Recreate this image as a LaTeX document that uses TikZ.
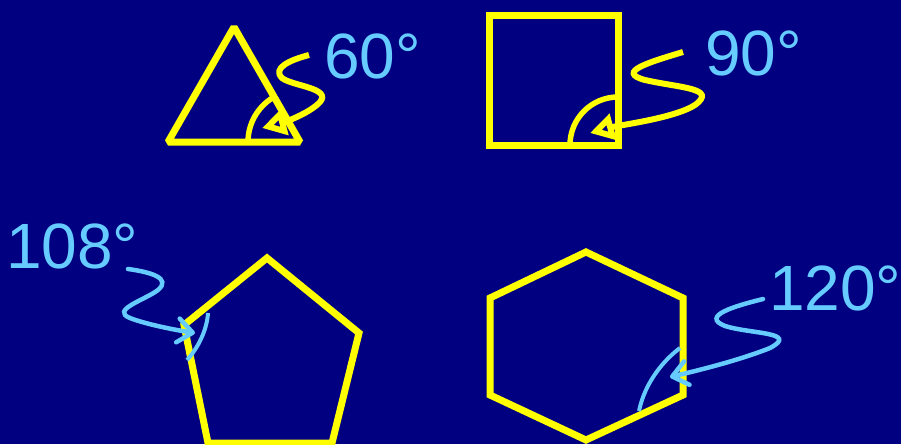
\documentclass[tikz,border=0pt]{standalone}
\usepackage{fontspec}
\setmainfont{Liberation Sans}
\usetikzlibrary{arrows.meta}
\usepackage{xcolor}
\definecolor{navy}{RGB}{0,0,128}
\definecolor{yel}{RGB}{255,255,0}
\definecolor{sky}{RGB}{102,204,255}

\begin{document}
\begin{tikzpicture}[
	x=1pt, y=-1pt,
	poly/.style = {draw=yel,	line width=7pt},
	ya/.style	= {draw=yel,	line width=6pt, -{Triangle[open, length=24pt, width=26pt]}},
	yarc/.style	= {draw=yel,	line width=5.5pt},
	ba/.style	= {draw=sky,	line width=4.5pt, line cap=round, -{Straight Barb[round, length=15pt, width=24pt]}},
	barc/.style	= {draw=sky,	line width=4pt},
	lab/.style	= {text=sky,	inner sep=0, anchor=base west, font=\fontsize{64}{70}\selectfont}
	]
	
	%Background
	\fill[navy] (0,0) rectangle (901,444);
	\clip (0,0) rectangle (901,444);
	
	%Corners
	\coordinate	(t1)	at	(234, 27);
	\coordinate	(t2)	at	(168, 142);
	\coordinate	(t3)	at	(300, 142);
	
	\coordinate	(q1)	at	(489, 16);
	\coordinate	(q2)	at	(618, 16);
	\coordinate	(q3)	at	(618, 145);
	\coordinate	(q4)	at	(489, 145);
	
	\coordinate	(p1)	at	(267, 258);
	\coordinate	(p2)	at	(359, 333);
	\coordinate	(p3)	at	(332, 443);
	\coordinate	(p4)	at	(208, 443);
	\coordinate	(p5)	at	(184, 325);
	
	\coordinate	(h1)	at	(586, 252);
	\coordinate	(h2)	at	(683, 298);
	\coordinate	(h3)	at	(683, 395);
	\coordinate	(h4)	at	(586, 440);
	\coordinate	(h5)	at	(490, 395);
	\coordinate	(h6)	at	(490, 298);
	
	%Shapes
	\draw[poly, line join=bevel]	(t1) -- (t2) -- (t3) -- cycle;
	\draw[poly]	(q1) -- (q2) -- (q3) -- (q4) -- cycle;
	\draw[poly]	(p1) -- (p2) -- (p3) -- (p4) -- (p5) -- cycle;
	\draw[poly]	(h1) -- (h2) -- (h3) -- (h4) -- (h5) -- (h6) -- cycle;
	
	%Labels
	\node[lab]	(l60)	at	(324, 78)	{60°};
	\node[lab]	(l90)	at	(705, 75)	{90°};
	\node[lab]	(l108)	at	(6, 268)	{108°};
	\node[lab]	(l120)	at	(769, 310)	{120°};
	
	%Arrow ends
	\coordinate	(s60)	at	(309, 55);
	\coordinate	(e60)	at	(262, 128);
	\coordinate	(s90)	at	(683, 52);
	\coordinate	(e90)	at	(590, 133);
	\coordinate	(s108)	at	(128, 269);
	\coordinate	(e108)	at	(195, 333);
	\coordinate	(s120)	at	(763, 299);
	\coordinate	(e120)	at	(670, 377);
	
	%Angle marks
	\draw[yarc]	(t3) ++(180:52) arc[start angle=180, end angle=238, radius=52];
	\draw[yarc]	(q3) ++(180:48) arc[start angle=180, end angle=270, radius=48];
	\draw[barc]	(208, 313) .. controls (207, 330) and (198, 348) .. (187, 360);
	\draw[barc]	(680, 348) .. controls (664, 360) and (645, 382) .. (639, 411);
	
	%Arrows
	\draw[ya]	(s60) .. controls (290, 60) and (272, 68) .. (282, 78)
				.. controls (292, 86) and (332, 88) .. (320, 102)
				.. controls (310, 113) and (285, 122) .. (e60);
	\draw[ya]	(s90) .. controls (650, 62) and (615, 72) .. (645, 80)
				.. controls (680, 88) and (718, 88) .. (695, 105)
				.. controls (675, 118) and (620, 125) .. (e90);
	\draw[ba]	(s108) .. controls (150, 272) and (172, 278) .. (158, 290)
				.. controls (145, 300) and (110, 310) .. (130, 318)
				.. controls (145, 324) and (175, 330) .. (e108);
	\draw[ba]	(s120) .. controls (735, 306) and (700, 316) .. (725, 326)
				.. controls (750, 334) and (800, 332) .. (770, 348)
				.. controls (740, 360) and (700, 370) .. (e120);
	
\end{tikzpicture}
\end{document}
